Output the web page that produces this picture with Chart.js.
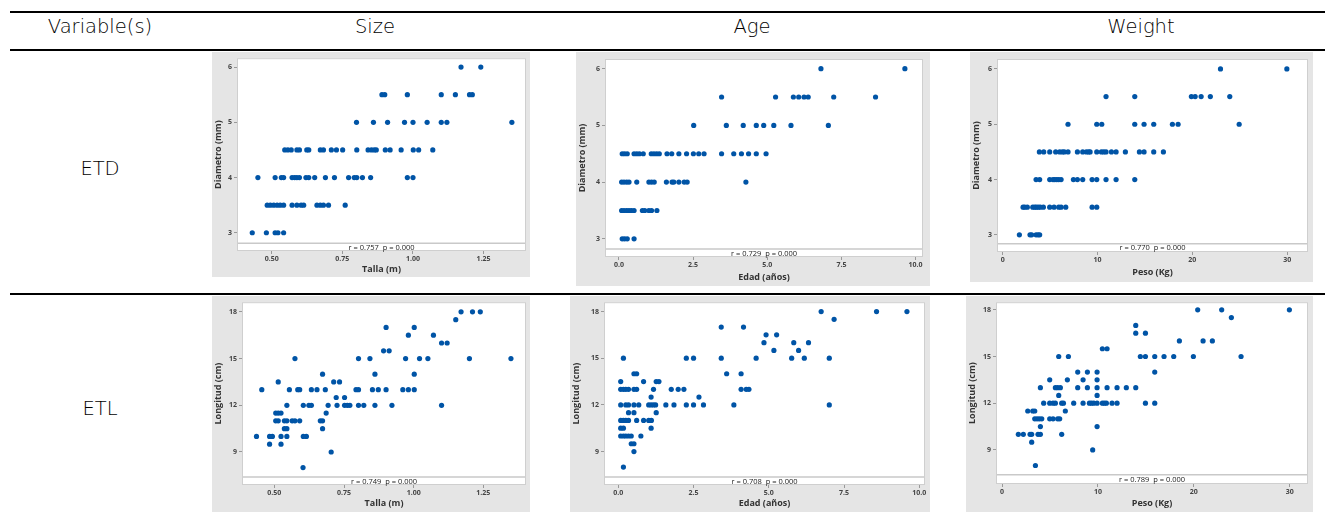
<!DOCTYPE html>
<html>
<head>
<meta charset="utf-8">
<script src="https://cdn.jsdelivr.net/npm/chart.js@4.4.1/dist/chart.umd.min.js"></script>
<style>
  html, body { margin:0; padding:0; background:#fff; }
  body { width:1325px; height:512px; position:relative; overflow:hidden; font-family:"DejaVu Sans", sans-serif; }
  .hl { position:absolute; left:10px; right:0; background:#000; }
  .txt { position:absolute; transform:translateX(-50%); white-space:nowrap; color:#000; font-size:19.5px; font-weight:200; font-family:"DejaVu Sans", sans-serif; }
  .panel { position:absolute; background:#e5e5e5; }
  canvas { display:block; }
</style>
</head>
<body>
<div class="hl" style="top:11px;height:2px"></div>
<div class="hl" style="top:49px;height:2px"></div>
<div class="hl" style="top:293px;height:2px"></div>
<div class="txt" style="left:100px;top:15px">Variable(s)</div>
<div class="txt" style="left:375px;top:15px">Size</div>
<div class="txt" style="left:752px;top:15px">Age</div>
<div class="txt" style="left:1141px;top:15px">Weight</div>
<div class="txt" style="left:100px;top:157px">ETD</div>
<div class="txt" style="left:100px;top:397px">ETL</div>

<div class="panel" style="left:212px;top:52px;width:318px;height:225px"><canvas id="c1" width="318" height="225"></canvas></div>
<div class="panel" style="left:576px;top:52px;width:354px;height:234px"><canvas id="c2" width="354" height="234"></canvas></div>
<div class="panel" style="left:970px;top:52px;width:343px;height:230px"><canvas id="c3" width="343" height="230"></canvas></div>
<div class="panel" style="left:212px;top:296px;width:318px;height:216px"><canvas id="c4" width="318" height="216"></canvas></div>
<div class="panel" style="left:570px;top:296px;width:360px;height:216px"><canvas id="c5" width="360" height="216"></canvas></div>
<div class="panel" style="left:966px;top:296px;width:347px;height:216px"><canvas id="c6" width="347" height="216"></canvas></div>

<script>
// ---------- DATA ----------
const rowLabels = ["ETD", "ETL"];
const colLabels = ["Size", "Age", "Weight"];

const xTicksTalla = [0.50, 0.75, 1.00, 1.25];
const xTicksEdad = [0.0, 2.5, 5.0, 7.5, 10.0];
const xTicksPeso = [0, 10, 20, 30];
const yTicksDiam = [3, 4, 5, 6];
const yTicksLong = [9, 12, 15, 18];

const rTexts = ["r = 0.757  p = 0.000", "r = 0.729  p = 0.000", "r = 0.770  p = 0.000",
                "r = 0.749  p = 0.000", "r = 0.708  p = 0.000", "r = 0.789  p = 0.000"];

// Size (Talla, m) vs ETD (Diametro, mm)
const tallaDiam = [
 [1.17,6],[1.24,6],
 [0.89,5.5],[0.90,5.5],[0.98,5.5],[1.10,5.5],[1.15,5.5],[1.20,5.5],[1.21,5.5],
 [0.80,5],[0.86,5],[0.91,5],[0.97,5],[1.00,5],[1.05,5],[1.10,5],[1.12,5],[1.35,5],
 [0.546,4.5],[0.557,4.5],[0.569,4.5],[0.589,4.5],[0.598,4.5],[0.624,4.5],[0.631,4.5],[0.672,4.5],[0.683,4.5],
 [0.711,4.5],[0.729,4.5],[0.751,4.5],[0.801,4.5],[0.841,4.5],[0.853,4.5],[0.863,4.5],[0.870,4.5],[0.902,4.5],
 [0.919,4.5],[0.958,4.5],[1.001,4.5],[1.02,4.5],[1.07,4.5],
 [0.451,4],[0.512,4],[0.534,4],[0.542,4],[0.572,4],[0.581,4],[0.589,4],[0.598,4],[0.621,4],[0.631,4],
 [0.652,4],[0.69,4],[0.722,4],[0.772,4],[0.792,4],[0.801,4],[0.821,4],[0.85,4],[0.98,4],[1.00,4],
 [0.484,3.5],[0.495,3.5],[0.507,3.5],[0.519,3.5],[0.530,3.5],[0.542,3.5],[0.572,3.5],[0.589,3.5],[0.604,3.5],
 [0.613,3.5],[0.66,3.5],[0.672,3.5],[0.683,3.5],[0.701,3.5],[0.76,3.5],
 [0.431,3],[0.481,3],[0.512,3],[0.522,3],[0.542,3]
];

// Age (Edad, años) vs ETD
const edadDiam = [
 [6.81,6],[9.64,6],
 [3.46,5.5],[5.28,5.5],[5.88,5.5],[6.06,5.5],[6.24,5.5],[6.38,5.5],[7.24,5.5],[8.65,5.5],
 [2.52,5],[3.62,5],[4.19,5],[4.63,5],[4.88,5],[5.22,5],[5.80,5],[7.06,5],
 [0.11,4.5],[0.19,4.5],[0.28,4.5],[0.51,4.5],[0.60,4.5],[0.69,4.5],[0.82,4.5],[1.09,4.5],[1.18,4.5],[1.27,4.5],
 [1.36,4.5],[1.62,4.5],[1.78,4.5],[2.02,4.5],[2.28,4.5],[2.51,4.5],[2.69,4.5],[2.87,4.5],[3.46,4.5],[3.87,4.5],
 [4.13,4.5],[4.37,4.5],[4.63,4.5],[4.96,4.5],
 [0.09,4],[0.17,4],[0.26,4],[0.34,4],[0.60,4],[1.01,4],[1.10,4],[1.19,4],[1.60,4],[1.79,4],[1.85,4],[2.02,4],
 [2.20,4],[2.30,4],[4.28,4],
 [0.09,3.5],[0.17,3.5],[0.26,3.5],[0.34,3.5],[0.42,3.5],[0.51,3.5],[0.79,3.5],[0.87,3.5],[1.01,3.5],[1.10,3.5],[1.28,3.5],
 [0.11,3],[0.19,3],[0.28,3],[0.51,3]
];

// Weight (Peso, Kg) vs ETD
const pesoDiam = [
 [22.97,6],[29.97,6],
 [10.9,5.5],[13.93,5.5],[19.9,5.5],[20.3,5.5],[20.93,5.5],[21.9,5.5],[23.95,5.5],
 [6.89,5],[9.92,5],[10.45,5],[13.93,5],[14.91,5],[15.93,5],[17.9,5],[18.5,5],[24.94,5],
 [3.87,4.5],[4.33,4.5],[4.96,4.5],[5.59,4.5],[6.01,4.5],[6.3,4.5],[6.5,4.5],[6.89,4.5],[7.88,4.5],[8.44,4.5],
 [8.83,4.5],[9.07,4.5],[9.22,4.5],[9.92,4.5],[10.41,4.5],[10.66,4.5],[10.9,4.5],[11.47,4.5],[11.96,4.5],
 [12.94,4.5],[14.42,4.5],[14.91,4.5],[15.93,4.5],[16.95,4.5],
 [3.52,4],[3.9,4],[4.96,4],[5.31,4],[5.49,4],[5.7,4],[5.91,4],[6.16,4],[7.46,4],[7.88,4],[8.44,4],[9.43,4],
 [9.92,4],[10.9,4],[11.96,4],[13.93,4],
 [2.15,3.5],[2.32,3.5],[2.6,3.5],[3.17,3.5],[3.38,3.5],[3.55,3.5],[3.76,3.5],[3.97,3.5],[4.29,3.5],[4.96,3.5],
 [5.42,3.5],[5.91,3.5],[6.16,3.5],[6.65,3.5],[9.43,3.5],[9.92,3.5],
 [1.76,3],[2.88,3],[3.06,3],[3.52,3],[3.73,3],[3.9,3]
];

// Size (Talla) vs ETL (Longitud, cm)
const tallaLong = [
 [0.436,10],[0.455,13],[0.483,10],[0.493,10],[0.483,9.5],[0.514,13.5],[0.505,11.5],[0.514,11.5],[0.524,11.5],
 [0.505,11],[0.514,11],[0.524,10],[0.524,9.5],[0.536,11],[0.545,11],[0.536,10.5],[0.545,10.5],[0.545,10],
 [0.545,12],[0.554,13],[0.574,15],[0.564,11],[0.574,11],[0.591,11],[0.584,13],[0.591,13],[0.604,12],
 [0.604,10],[0.615,10],[0.603,8],[0.624,12],[0.633,12],[0.633,13],[0.653,13],[0.665,11],[0.673,11],
 [0.673,10.5],[0.673,14],[0.683,13],[0.686,11.5],[0.693,12],[0.704,9],[0.713,13.5],[0.722,12.5],[0.725,12],
 [0.734,13.5],[0.752,12.5],[0.752,12],[0.762,12],[0.771,12],[0.793,13],[0.802,13],[0.802,15],[0.802,12],
 [0.821,12],[0.843,15],[0.852,13],[0.861,14],[0.861,12],[0.873,13],[0.892,15.5],[0.912,15.5],[0.901,17],
 [0.901,13],[0.922,12],[0.961,13],[0.971,15],[0.981,16.5],[0.981,13],[1.002,17],[1.002,14],[1.002,13],
 [1.021,15],[1.051,15],[1.071,16.5],[1.10,16],[1.12,16],[1.10,12],[1.151,17.5],[1.17,18],[1.20,15],
 [1.211,18],[1.239,18],[1.349,15]
];

// Age (Edad) vs ETL
const edadLong = [
 [0.17,15],[0.17,8],[0.08,13.5],[0.08,13],[0.17,13],[0.25,13],[0.34,13],[0.08,12],[0.25,12],[0.34,12],
 [0.08,11],[0.17,11],[0.25,11],[0.34,11],[0.08,10.5],[0.17,10.5],[0.08,10],[0.17,10],[0.25,10],[0.34,10],
 [0.43,10],[0.34,11.5],[0.43,9.5],[0.52,9.5],[0.52,9],[0.52,14],[0.61,14],[0.52,13],[0.61,13],[0.52,12],
 [0.68,12],[0.52,11.5],[0.61,11],[0.75,10],[0.84,13.5],[0.84,11],[1.01,11],[1.10,11],[1.01,12],[1.09,12],
 [1.17,12],[1.24,12],[1.09,12.5],[1.09,10.5],[1.17,13],[1.26,13.5],[1.35,13.5],[1.26,11.5],[1.58,12],
 [1.76,13],[1.85,12],[1.99,13],[2.18,13],[2.26,15],[2.26,12],[2.50,15],[2.50,12],[2.68,12.5],[2.83,12],
 [3.42,17],[3.42,15],[3.60,14],[3.84,12],[4.08,14],[4.08,13],[4.16,17],[4.25,13],[4.34,13],[4.58,15],
 [4.84,16],[4.91,16.5],[5.17,15.5],[5.26,16.5],[5.76,15],[5.83,16],[5.99,15.5],[6.18,15],[6.32,16],
 [6.74,18],[7.01,15],[7.01,12],[7.17,17.5],[8.58,18],[9.59,18]
];

// Weight (Peso) vs ETL
const pesoLong = [
 [1.70,10],[2.22,10],[2.68,11.5],[2.92,10],[3.09,10],[3.09,9.5],[3.2,11.5],[3.41,11.5],[3.41,11],[3.65,11],
 [3.89,11],[4.14,11],[3.48,8],[3.75,10],[4.0,10],[4.0,10.5],[4.0,13],[4.34,12],[4.97,13.5],[4.97,12],
 [5.32,12],[5.56,12],[4.97,11],[5.32,11],[5.56,13],[5.8,13],[6.08,13],[5.91,12.5],[5.91,15],[5.8,11],
 [6.01,11],[6.22,12],[6.4,12],[6.22,10],[6.6,11.5],[6.81,13.5],[6.92,15],[7.47,12],[7.89,14],[7.89,13],
 [8.45,13.5],[8.45,12],[8.9,14],[8.9,13],[9.11,12],[9.32,12],[9.56,12],[9.45,9],[9.91,14],[9.91,13.5],
 [9.91,13],[9.91,12.5],[9.91,12],[9.91,10.5],[10.46,12],[10.67,12],[10.88,12],[10.46,15.5],[10.95,15.5],
 [10.95,13],[11.47,12],[11.99,12],[11.99,13],[12.96,13],[13.94,17],[13.94,16.5],[13.94,13],[14.42,15],
 [14.95,15],[14.95,12],[14.95,16.5],[15.92,15],[15.92,14],[15.92,12],[16.89,15],[17.9,15],[18.49,16],
 [19.95,15],[20.4,18],[20.96,16],[21.93,16],[22.9,18],[23.91,17.5],[24.92,15],[29.96,18]
];

// ---------- DRAWING ----------
const FONT = "'Open Sans', 'DejaVu Sans', sans-serif";
const DOT = '#0054a6';

const framePlugin = {
  id: 'frame',
  beforeDraw(chart, args, opts) {
    const a = chart.chartArea, ctx = chart.ctx;
    ctx.save();
    ctx.fillStyle = '#ffffff';
    ctx.fillRect(a.left, a.top, a.right - a.left, a.bottom - a.top);
    ctx.restore();
  },
  afterDraw(chart, args, opts) {
    const a = chart.chartArea, ctx = chart.ctx;
    const ys = chart.scales.y.getPixelForValue(opts.strip);
    ctx.save();
    ctx.strokeStyle = '#c9c9c9';
    ctx.lineWidth = 1.5;
    ctx.beginPath();
    ctx.moveTo(a.left, ys); ctx.lineTo(a.right, ys);
    ctx.stroke();
    ctx.lineWidth = 1;
    ctx.strokeStyle = '#cfcfcf';
    ctx.strokeRect(a.left + 0.5, a.top + 0.5, a.right - a.left - 1, a.bottom - a.top - 1);
    ctx.fillStyle = '#222';
    ctx.font = "7.5px " + FONT;
    ctx.textAlign = 'center';
    ctx.textBaseline = 'middle';
    ctx.fillText(opts.text, (a.left + a.right) / 2, (ys + a.bottom) / 2 + 0.5);
    ctx.restore();
  }
};

function makePanel(id, c) {
  new Chart(document.getElementById(id), {
    type: 'scatter',
    data: { datasets: [{
      data: c.data.map(p => ({ x: p[0], y: p[1] })),
      backgroundColor: DOT, borderColor: DOT, pointRadius: 2.6, borderWidth: 0
    }]},
    options: {
      responsive: false, animation: false, events: [],
      layout: { padding: { top: c.padTop, right: c.padRight, left: 0, bottom: 0 } },
      plugins: { legend: { display: false }, tooltip: { enabled: false },
                 frame: { strip: c.strip, text: c.rText } },
      scales: {
        x: {
          type: 'linear', min: c.xMin, max: c.xMax,
          afterBuildTicks: s => { s.ticks = c.xTicks.map(v => ({ value: v })); },
          afterFit: s => { s.height = c.xAxisH; },
          ticks: { font: { family: FONT, size: 7, weight: 'bold' }, color: '#444', padding: 1,
                   maxRotation: 0, autoSkip: false, callback: v => v.toFixed(c.xDec) },
          grid: { drawOnChartArea: false, tickLength: 3, color: '#999' },
          border: { display: false },
          title: { display: true, text: c.xLabel, color: '#333',
                   font: { family: FONT, size: 9, weight: 'bold' }, padding: { top: 0, bottom: c.xTitlePad } }
        },
        y: {
          type: 'linear', min: c.yMin, max: c.yMax,
          afterBuildTicks: s => { s.ticks = c.yTicks.map(v => ({ value: v })); },
          afterFit: s => { s.width = c.yAxisW; },
          ticks: { font: { family: FONT, size: 7, weight: 'bold' }, color: '#444', padding: 2,
                   autoSkip: false, callback: v => String(v) },
          grid: { drawOnChartArea: false, tickLength: 3, color: '#999' },
          border: { display: false },
          title: { display: true, text: c.yLabel, color: '#333',
                   font: { family: FONT, size: 9, weight: 'bold' }, padding: { top: 1, bottom: 0 } }
        }
      }
    },
    plugins: [framePlugin]
  });
}

makePanel('c1', { data: tallaDiam, xTicks: xTicksTalla, yTicks: yTicksDiam, xDec: 2,
  xMin: 0.377, xMax: 1.40, yMin: 2.67, yMax: 6.16, strip: 2.81,
  yAxisW: 25, xAxisH: 26, padTop: 5, padRight: 1, xTitlePad: 2,
  xLabel: 'Talla (m)', yLabel: 'Diametro (mm)', rText: rTexts[0] });

makePanel('c2', { data: edadDiam, xTicks: xTicksEdad, yTicks: yTicksDiam, xDec: 1,
  xMin: -0.47, xMax: 10.25, yMin: 2.68, yMax: 6.17, strip: 2.82,
  yAxisW: 29, xAxisH: 29, padTop: 7, padRight: 7, xTitlePad: 3,
  xLabel: 'Edad (años)', yLabel: 'Diametro (mm)', rText: rTexts[1] });

makePanel('c3', { data: pesoDiam, xTicks: xTicksPeso, yTicks: yTicksDiam, xDec: 0,
  xMin: -0.6, xMax: 32.2, yMin: 2.69, yMax: 6.18, strip: 2.84,
  yAxisW: 27, xAxisH: 30, padTop: 7, padRight: 5, xTitlePad: 4,
  xLabel: 'Peso (Kg)', yLabel: 'Diametro (mm)', rText: rTexts[2] });

makePanel('c4', { data: tallaLong, xTicks: xTicksTalla, yTicks: yTicksLong, xDec: 2,
  xMin: 0.384, xMax: 1.403, yMin: 6.88, yMax: 18.62, strip: 7.39,
  yAxisW: 30, xAxisH: 27, padTop: 4, padRight: 4, xTitlePad: 3,
  xLabel: 'Talla (m)', yLabel: 'Longitud (cm)', rText: rTexts[3] });

makePanel('c5', { data: edadLong, xTicks: xTicksEdad, yTicks: yTicksLong, xDec: 1,
  xMin: -0.475, xMax: 10.19, yMin: 6.85, yMax: 18.6, strip: 7.37,
  yAxisW: 34, xAxisH: 27, padTop: 4, padRight: 5, xTitlePad: 3,
  xLabel: 'Edad (años)', yLabel: 'Longitud (cm)', rText: rTexts[4] });

makePanel('c6', { data: pesoLong, xTicks: xTicksPeso, yTicks: yTicksLong, xDec: 0,
  xMin: -0.63, xMax: 31.9, yMin: 6.81, yMax: 18.49, strip: 7.41,
  yAxisW: 30, xAxisH: 28, padTop: 3, padRight: 5, xTitlePad: 3,
  xLabel: 'Peso (Kg)', yLabel: 'Longitud (cm)', rText: rTexts[5] });
</script>
</body>
</html>
